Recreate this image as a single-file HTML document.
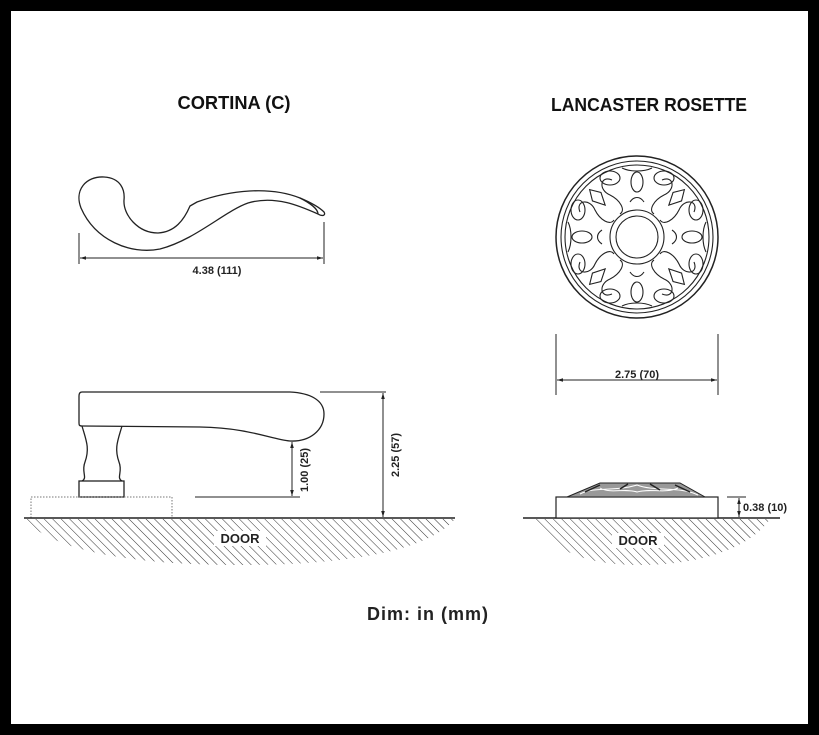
<!DOCTYPE html>
<html><head><meta charset="utf-8"><style>
html,body{margin:0;padding:0;background:#000;}
body{width:819px;height:735px;overflow:hidden;}
svg{display:block;}
</style></head><body>
<svg width="819" height="735" viewBox="0 0 819 735" xmlns="http://www.w3.org/2000/svg">
<defs>
<pattern id="h" width="6" height="6" patternUnits="userSpaceOnUse" patternTransform="rotate(-45)">
<line x1="0" y1="0" x2="0" y2="6" stroke="#333" stroke-width="1"/>
</pattern>
<marker id="a" viewBox="0 0 10 10" refX="10" refY="5" markerWidth="6" markerHeight="6" orient="auto-start-reverse">
<path d="M0,2 L10,5 L0,8 z" fill="#222"/></marker>
</defs>
<rect x="11" y="11" width="797" height="713" fill="#fff"/>
<g font-family="'Liberation Sans Narrow','Liberation Sans',sans-serif" font-weight="bold" fill="#111">
<text x="234" y="109" font-size="18" text-anchor="middle" textLength="113" lengthAdjust="spacingAndGlyphs">CORTINA (C)</text>
<text x="649" y="111" font-size="18" text-anchor="middle" textLength="196" lengthAdjust="spacingAndGlyphs">LANCASTER ROSETTE</text>
</g>
<g fill="none" stroke="#222" stroke-width="1.3">
<path d="M81,208 C74,190 86,176 104,177 C121,178 125,190 124,200 C123,215 138,233 158,233 C175,232 184,220 190,206 L197,202 C230,190 270,186 300,198 C312,203 320,208 324,212 C326,215 323,217 318,214 C300,206 275,195 248,203 C225,211 195,240 160,249 C130,255 95,240 81,208 Z"/>
<path d="M300,198 C310,203 318,209 318,214"/>
<path d="M82,392 L290,392 C310,393 324,400 324,414 C324,430 310,442 290,441 C270,439 250,428 200,427 L82,426 C79,426 79,425 79,422 L79,396 C79,393 80,392 82,392 Z"/>
<path d="M82,426 C86,440 90,448 85,462 C81,472 88,478 82,481 M122,426 C118,440 114,448 119,462 C123,472 116,478 122,481"/>
<rect x="79" y="481" width="45" height="16"/>
</g>
<rect x="31" y="497" width="141" height="21" fill="none" stroke="#777" stroke-dasharray="1.5,1.5"/>
<g stroke="#222" stroke-width="1" fill="none">
<line x1="79" y1="233" x2="79" y2="264"/><line x1="324" y1="222" x2="324" y2="264"/>
<line x1="80" y1="258" x2="323" y2="258" marker-start="url(#a)" marker-end="url(#a)"/>
<line x1="195" y1="497" x2="300" y2="497"/>
<line x1="292" y1="442" x2="292" y2="496" marker-start="url(#a)" marker-end="url(#a)"/>
<line x1="320" y1="392" x2="386" y2="392"/>
<line x1="383" y1="393" x2="383" y2="517" marker-start="url(#a)" marker-end="url(#a)"/>
<line x1="556" y1="334" x2="556" y2="395"/><line x1="718" y1="334" x2="718" y2="395"/>
<line x1="557" y1="380" x2="717" y2="380" marker-start="url(#a)" marker-end="url(#a)"/>
<line x1="727" y1="497" x2="746" y2="497"/>
<line x1="739" y1="498" x2="739" y2="517" marker-start="url(#a)" marker-end="url(#a)"/>
</g>
<path d="M24,519 L455,519 C430,548 360,565 240,565 C120,565 50,548 24,519 Z" fill="url(#h)"/>
<line x1="24" y1="518" x2="455" y2="518" stroke="#222" stroke-width="1.5"/>
<rect x="214" y="531" width="52" height="15" fill="#fff"/>
<path d="M534,519 L770,519 C750,548 700,565 640,565 C580,565 550,548 534,519 Z" fill="url(#h)"/>
<line x1="523" y1="518" x2="780" y2="518" stroke="#222" stroke-width="1.5"/>
<rect x="612" y="533" width="52" height="15" fill="#fff"/>
<rect x="556" y="497" width="162" height="21" fill="#fff" stroke="#222" stroke-width="1.2"/>
<path d="M567,497 L600,483 L680,483 L705,497 Z" fill="#999" stroke="#222"/>
<path d="M580,494 C595,486 615,492 637,485 C655,492 680,486 698,495 M600,488 C610,494 625,488 637,492 C650,488 665,494 678,488" fill="none" stroke="#fff" stroke-width="1"/>
<path d="M585,492 L600,485 M620,489 L628,484 M650,484 L660,490 M675,485 L690,492" stroke="#222" stroke-width="1.5"/>
<g fill="none" stroke="#222" stroke-width="1.1">
<circle cx="637" cy="237" r="81" stroke-width="1.5"/>
<circle cx="637" cy="237" r="76"/><circle cx="637" cy="237" r="72"/>
<circle cx="637" cy="237" r="27"/><circle cx="637" cy="237" r="21"/>
<g id="m">
<ellipse cx="637" cy="182" rx="6" ry="10"/>
<path d="M612,180 C600,175 598,190 610,195 C620,200 626,210 620,214"/>
<path d="M662,180 C674,175 676,190 664,195 C654,200 648,210 654,214"/>
<ellipse cx="610" cy="178" rx="10" ry="7"/><ellipse cx="664" cy="178" rx="10" ry="7"/>
<path d="M630,202 C634,196 640,196 644,202"/>
<path d="M622,168 C630,172 644,172 652,168"/>
</g>
<use href="#m" transform="rotate(90 637 237)"/>
<use href="#m" transform="rotate(180 637 237)"/>
<use href="#m" transform="rotate(270 637 237)"/>
<g transform="rotate(45 637 237)"><path d="M637,170 L631,180 L637,192 L643,180 Z"/></g>
<g transform="rotate(135 637 237)"><path d="M637,170 L631,180 L637,192 L643,180 Z"/></g>
<g transform="rotate(225 637 237)"><path d="M637,170 L631,180 L637,192 L643,180 Z"/></g>
<g transform="rotate(315 637 237)"><path d="M637,170 L631,180 L637,192 L643,180 Z"/></g>
</g>
<g font-family="'Liberation Sans',sans-serif" font-weight="bold" fill="#222" font-size="11">
<text x="217" y="274" text-anchor="middle">4.38 (111)</text>
<text x="637" y="378" text-anchor="middle">2.75 (70)</text>
<text x="743" y="511">0.38 (10)</text>
<text transform="translate(308,470) rotate(-90)" text-anchor="middle">1.00 (25)</text>
<text transform="translate(399,455) rotate(-90)" text-anchor="middle">2.25 (57)</text>
<text x="240" y="543" text-anchor="middle" font-size="13">DOOR</text>
<text x="638" y="545" text-anchor="middle" font-size="13">DOOR</text>
</g>
<text x="428" y="620" text-anchor="middle" font-family="'Liberation Sans',sans-serif" font-weight="bold" font-size="18" letter-spacing="1" fill="#222">Dim: in (mm)</text>
</svg>
</body></html>
